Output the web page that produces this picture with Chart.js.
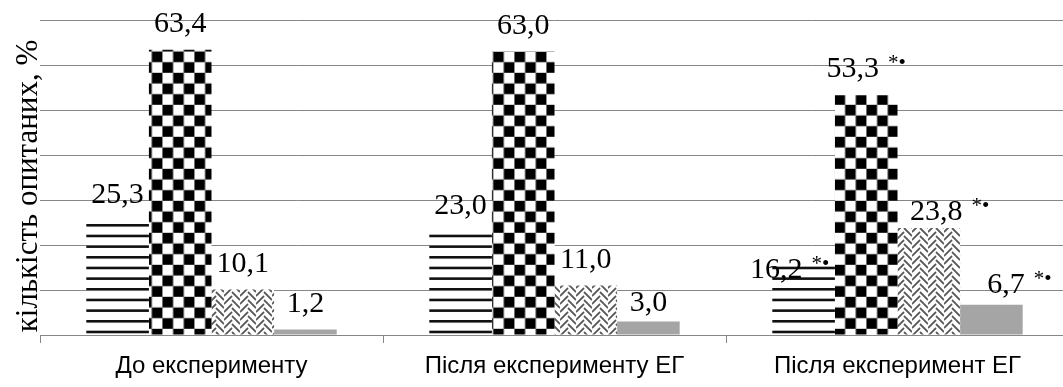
<!DOCTYPE html>
<html>
<head>
<meta charset="utf-8">
<script src="https://cdn.jsdelivr.net/npm/chart.js@4.4.0/dist/chart.umd.min.js"></script>
<style>
  html, body { margin: 0; padding: 0; background: #fff; overflow: hidden; }
  #wrap { position: relative; width: 1069px; height: 387px; }
</style>
</head>
<body>
<div id="wrap"><canvas id="chart"></canvas></div>
<script>
// data
const categories = ['До експерименту', 'Після експерименту ЕГ', 'Після експеримент ЕГ'];
const seriesA = [25.3, 23.0, 16.2];
const seriesB = [63.4, 63.0, 53.3];
const seriesC = [10.1, 11.0, 23.8];
const seriesD = [1.2, 3.0, 6.7];
const marks = ['', '', '*•'];
const yTicks = [0, 10, 20, 30, 40, 50, 60, 70];
const yTitle = 'кількість опитаних, %';

const ctx = document.getElementById('chart').getContext('2d');

function makeTile(w, h, draw) {
  const c = document.createElement('canvas');
  c.width = w; c.height = h;
  const g = c.getContext('2d');
  g.fillStyle = '#fff';
  g.fillRect(0, 0, w, h);
  draw(g);
  return c;
}

// horizontal stripes
const stripes = ctx.createPattern(makeTile(8, 32, g => {
  g.fillStyle = '#111';
  [0, 10.67, 21.33].forEach(y => g.fillRect(0, y, 8, 2.6));
}), 'repeat');

// checkerboard
const checker = ctx.createPattern(makeTile(64, 64, g => {
  g.fillStyle = '#000';
  const s = 64 / 6;
  for (let i = 0; i < 6; i++)
    for (let j = 0; j < 6; j++)
      if ((i + j) % 2 === 0) g.fillRect(i * s, j * s, s, s);
}), 'repeat');
checker.setTransform(new DOMMatrix([1, 0, 0, 1, 2.4, 8.8]));

// herringbone
const herring = ctx.createPattern(makeTile(16, 16, g => {
  g.strokeStyle = '#5a5a5a';
  g.lineWidth = 1.8;
  g.beginPath();
  [-8, 0, 8, 16].forEach(y => {
    g.moveTo(0, y + 8); g.lineTo(8, y);
    g.moveTo(8, y + 4); g.lineTo(16, y + 12);
  });
  g.stroke();
}), 'repeat');

const gridCol = '#878787';
const serif = '"Liberation Serif", "Times New Roman", serif';

// manual label nudges (dataset-index): [dx, dy]
const labelNudge = { '0-2': [-14, 34], '2-2': [21, 10], '3-2': [28, 6], '3-1': [0, 7] };

const valueLabels = {
  id: 'valueLabels',
  afterDatasetsDraw(chart) {
    const c = chart.ctx;
    chart.data.datasets.forEach((ds, i) => {
      chart.getDatasetMeta(i).data.forEach((bar, j) => {
        const txt = ds.data[j].toFixed(1).replace('.', ',');
        const mark = marks[j];
        const nudge = labelNudge[i + '-' + j] || [0, 0];
        c.save();
        c.fillStyle = '#000';
        c.textAlign = 'left';
        c.textBaseline = 'alphabetic';
        c.font = '30px ' + serif;
        const w1 = c.measureText(txt).width;
        c.font = '21px ' + serif;
        const w2 = mark ? c.measureText(mark).width + 9 : 0;
        const x0 = bar.x - (w1 + w2) / 2 + nudge[0];
        const y0 = bar.y - 18 + nudge[1];
        c.font = '30px ' + serif;
        c.fillText(txt, x0, y0);
        if (mark) {
          c.font = '21px ' + serif;
          c.fillText(mark, x0 + w1 + 9, y0 - 8);
        }
        c.restore();
      });
    });
  }
};

const axisTitle = {
  id: 'axisTitle',
  afterDraw(chart) {
    const c = chart.ctx;
    c.save();
    c.fillStyle = '#000';
    c.font = '31px ' + serif;
    c.textAlign = 'center';
    c.textBaseline = 'alphabetic';
    c.translate(37, 186);
    c.rotate(-Math.PI / 2);
    c.fillText(yTitle, 0, 0);
    c.restore();
  }
};

new Chart(ctx, {
  type: 'bar',
  data: {
    labels: categories,
    datasets: [
      { data: seriesA, backgroundColor: stripes },
      { data: seriesB, backgroundColor: checker },
      { data: seriesC, backgroundColor: herring },
      { data: seriesD, backgroundColor: '#a5a5a5' }
    ]
  },
  options: {
    responsive: true,
    maintainAspectRatio: false,
    animation: false,
    layout: { padding: { top: 20, right: 0, left: 0, bottom: 0 } },
    categoryPercentage: 0.73,
    barPercentage: 1,
    plugins: { legend: { display: false }, tooltip: { enabled: false } },
    scales: {
      x: {
        grid: { drawOnChartArea: false, offset: true, tickLength: 8, color: gridCol },
        border: { color: gridCol },
        ticks: {
          color: '#000',
          padding: 9,
          font: { family: '"Liberation Sans Narrow", "Arial Narrow", "Liberation Sans", sans-serif', size: 24 }
        },
        afterFit(s) { s.height = 52; }
      },
      y: {
        min: yTicks[0],
        max: yTicks[yTicks.length - 1],
        ticks: { display: false, stepSize: yTicks[1] - yTicks[0] },
        grid: { color: gridCol, drawTicks: false },
        border: { display: false },
        afterFit(s) { s.width = 40; }
      }
    }
  },
  plugins: [valueLabels, axisTitle]
});
</script>
</body>
</html>
